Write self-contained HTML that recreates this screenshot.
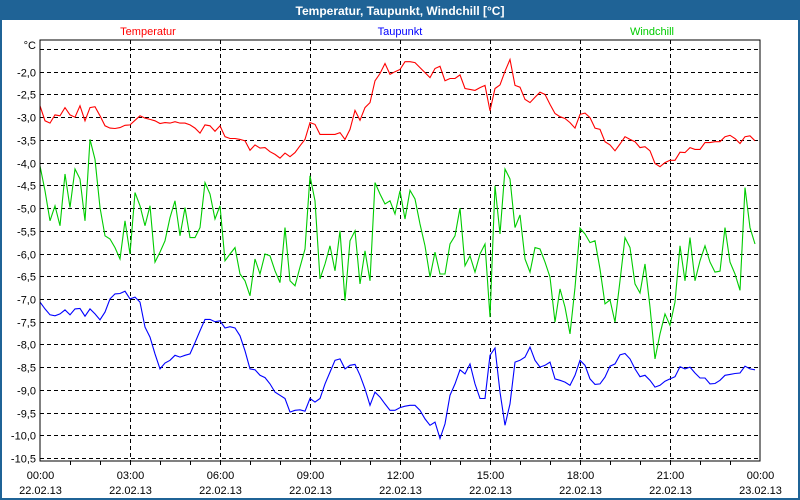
<!DOCTYPE html>
<html><head><meta charset="utf-8">
<style>
html,body{margin:0;padding:0;background:#fff;}
#wrap{position:relative;width:800px;height:500px;overflow:hidden;font-family:"Liberation Sans",sans-serif;}
svg text{font-family:"Liberation Sans",sans-serif;}
</style></head>
<body>
<div id="wrap">
<svg id="chart" width="800" height="500" xmlns="http://www.w3.org/2000/svg">
  <rect x="0" y="0" width="800" height="500" fill="#1f6396"/>
  <rect x="2" y="20" width="796" height="478" fill="#ffffff"/>
  <text x="400" y="15" text-anchor="middle" fill="#ffffff" font-size="12" font-weight="bold">Temperatur, Taupunkt, Windchill [°C]</text>
  <text x="148" y="35" text-anchor="middle" fill="#ff0000" font-size="11">Temperatur</text>
  <text x="400" y="35" text-anchor="middle" fill="#0000ff" font-size="11">Taupunkt</text>
  <text x="652" y="35" text-anchor="middle" fill="#00cc00" font-size="11">Windchill</text>
  <text x="36" y="49" text-anchor="end" fill="#000" font-size="11">°C</text>
  <g id="grid"></g>
  <g id="series"></g>
  <rect x="40" y="40" width="720" height="421" fill="none" stroke="#000" stroke-width="1"/>
</svg>
</div>
<script>
// time step: 10 minutes, starting 00:00
const stepHours = 1/6;
const yTicks = [-1.5,-2.0,-2.5,-3.0,-3.5,-4.0,-4.5,-5.0,-5.5,-6.0,-6.5,-7.0,-7.5,-8.0,-8.5,-9.0,-9.5,-10.0,-10.5];
const xTickHours = [0,3,6,9,12,15,18,21,24];
const xTickTimes = ["00:00","03:00","06:00","09:00","12:00","15:00","18:00","21:00","00:00"];
const xTickDates = ["22.02.13","22.02.13","22.02.13","22.02.13","22.02.13","22.02.13","22.02.13","22.02.13","23.02.13"];
const temperatur = [
-2.75,-3.08,-3.13,-2.95,-2.97,-2.79,-2.95,-3.0,-2.75,-3.08,-2.79,-2.77,-2.97,-3.19,-3.24,-3.25,-3.23,-3.18,-3.17,-3.07,-2.97,-3.02,-3.05,-3.08,-3.14,-3.12,-3.13,-3.1,-3.13,-3.13,-3.17,-3.24,-3.35,-3.17,-3.19,-3.31,
-3.19,-3.43,-3.47,-3.47,-3.49,-3.52,-3.73,-3.61,-3.68,-3.67,-3.76,-3.82,-3.9,-3.79,-3.87,-3.78,-3.63,-3.49,-3.12,-3.16,-3.38,-3.38,-3.38,-3.38,-3.34,-3.49,-3.27,-2.85,-3.07,-2.79,-2.68,-2.2,-2.04,-1.82,-2.06,-2.0,
-1.95,-1.78,-1.78,-1.8,-1.91,-2.02,-2.13,-1.93,-1.88,-2.2,-2.15,-2.15,-2.07,-2.37,-2.39,-2.41,-2.35,-2.3,-2.86,-2.37,-2.29,-1.99,-1.73,-2.3,-2.34,-2.61,-2.68,-2.56,-2.45,-2.5,-2.72,-2.92,-2.99,-3.03,-3.12,-3.24,
-2.94,-2.91,-3.01,-3.24,-3.27,-3.54,-3.61,-3.74,-3.59,-3.43,-3.49,-3.54,-3.67,-3.65,-3.74,-4.02,-4.09,-4.0,-3.95,-3.95,-3.77,-3.78,-3.67,-3.71,-3.71,-3.56,-3.56,-3.54,-3.54,-3.43,-3.4,-3.47,-3.58,-3.43,-3.41,-3.52];
const windchill = [
-4.07,-4.62,-5.28,-4.95,-5.39,-4.25,-4.99,-4.14,-4.36,-5.28,-3.49,-3.93,-4.99,-5.61,-5.68,-5.87,-6.12,-5.28,-6.01,-4.66,-4.95,-5.39,-4.95,-6.19,-5.97,-5.72,-5.21,-4.84,-5.61,-4.99,-5.65,-5.65,-5.43,-4.44,-4.69,-5.24,
-4.95,-6.16,-6.01,-5.87,-6.45,-6.6,-6.93,-6.12,-6.45,-6.01,-6.05,-6.38,-6.64,-5.43,-6.6,-6.71,-6.3,-5.9,-4.29,-4.84,-6.56,-6.23,-5.83,-6.38,-5.5,-7.04,-5.72,-5.5,-6.67,-5.94,-6.6,-4.44,-4.69,-4.91,-4.84,-5.13,
-4.62,-5.24,-4.61,-4.8,-5.35,-5.83,-6.52,-5.97,-6.45,-6.45,-5.79,-5.61,-5.0,-6.27,-6.05,-6.41,-6.01,-5.79,-7.4,-4.51,-5.57,-4.14,-4.36,-5.43,-5.15,-6.12,-6.41,-5.87,-5.9,-6.19,-6.52,-7.51,-6.78,-7.18,-7.77,-6.75,
-5.44,-5.57,-5.76,-5.72,-6.34,-7.11,-7.02,-7.51,-6.6,-5.65,-5.87,-6.67,-6.87,-6.23,-7.18,-8.32,-7.77,-7.33,-7.58,-7.07,-5.83,-6.6,-5.65,-6.6,-6.16,-5.83,-6.19,-6.41,-6.39,-5.43,-6.19,-6.45,-6.81,-4.55,-5.43,-5.79];
const taupunkt = [
-7.07,-7.22,-7.35,-7.37,-7.33,-7.24,-7.35,-7.22,-7.21,-7.38,-7.22,-7.33,-7.46,-7.29,-7.0,-6.89,-6.88,-6.83,-7.0,-6.96,-7.07,-7.62,-7.84,-8.21,-8.54,-8.41,-8.35,-8.24,-8.28,-8.24,-8.21,-7.96,-7.7,-7.45,-7.45,-7.5,
-7.48,-7.64,-7.61,-7.64,-7.81,-8.14,-8.54,-8.56,-8.68,-8.73,-8.87,-9.05,-9.12,-9.19,-9.49,-9.45,-9.44,-9.47,-9.19,-9.27,-9.19,-8.87,-8.61,-8.35,-8.32,-8.54,-8.46,-8.44,-8.68,-8.98,-9.34,-9.05,-9.16,-9.31,-9.45,-9.45,
-9.39,-9.36,-9.34,-9.34,-9.45,-9.64,-9.78,-9.71,-10.07,-9.75,-9.12,-8.87,-8.56,-8.65,-8.43,-8.87,-9.19,-9.19,-8.24,-8.08,-9.05,-9.78,-9.31,-8.39,-8.35,-8.28,-8.06,-8.35,-8.5,-8.46,-8.39,-8.76,-8.79,-8.83,-8.9,-8.68,
-8.35,-8.46,-8.76,-8.88,-8.87,-8.72,-8.48,-8.43,-8.23,-8.2,-8.32,-8.54,-8.71,-8.68,-8.79,-8.94,-8.9,-8.81,-8.76,-8.71,-8.49,-8.54,-8.5,-8.63,-8.74,-8.74,-8.87,-8.86,-8.79,-8.68,-8.66,-8.64,-8.63,-8.48,-8.54,-8.56];

const NS = "http://www.w3.org/2000/svg";
const X0 = 40, X1 = 760, Y0 = 49, Y1 = 458;
function xScale(h){ return X0 + (h/24)*(X1-X0); }
function yScale(v){ return Y0 + (-1.5 - v)/9.0*(Y1-Y0); }
function fmt(v){ return v.toFixed(1).replace('.', ','); }

const grid = document.getElementById('grid');
yTicks.forEach(function(v){
  const y = Math.round(yScale(v)) + 0.5;
  const l = document.createElementNS(NS,'line');
  l.setAttribute('x1',X0); l.setAttribute('x2',X1); l.setAttribute('y1',y); l.setAttribute('y2',y);
  l.setAttribute('stroke','#000'); l.setAttribute('stroke-dasharray','4,3'); l.setAttribute('stroke-width','1');
  
  
  grid.appendChild(l);
  if (v !== -1.5) {
    const t = document.createElementNS(NS,'text');
    t.setAttribute('x',36); t.setAttribute('y',y+4); t.setAttribute('text-anchor','end');
    t.setAttribute('font-size','11'); t.setAttribute('fill','#000');
    t.textContent = fmt(v);
    
    
    grid.appendChild(t);
  }
});
for (let h=1; h<24; h++){
  const x = Math.round(xScale(h)) + 0.5;
  const tk = document.createElementNS(NS,'line');
  tk.setAttribute('x1',x); tk.setAttribute('x2',x); tk.setAttribute('y1',461); tk.setAttribute('y2',465);
  tk.setAttribute('stroke','#000');
  
  
  grid.appendChild(tk);
}
xTickHours.forEach(function(h,i){
  const x = Math.round(xScale(h)) + 0.5;
  if (h>0 && h<24){
    const l = document.createElementNS(NS,'line');
    l.setAttribute('x1',x); l.setAttribute('x2',x); l.setAttribute('y1',40); l.setAttribute('y2',461);
    l.setAttribute('stroke','#000'); l.setAttribute('stroke-dasharray','4,3');
    
    
    grid.appendChild(l);
  }
  const t1 = document.createElementNS(NS,'text');
  t1.setAttribute('x',x); t1.setAttribute('y',479); t1.setAttribute('text-anchor','middle');
  t1.setAttribute('font-size','11'); t1.setAttribute('fill','#000');
  t1.textContent = xTickTimes[i];
  
  
  grid.appendChild(t1);
  const t2 = document.createElementNS(NS,'text');
  t2.setAttribute('x',x); t2.setAttribute('y',494); t2.setAttribute('text-anchor','middle');
  t2.setAttribute('font-size','11'); t2.setAttribute('fill','#000');
  t2.textContent = xTickDates[i];
  
  
  grid.appendChild(t2);
});

const sg = document.getElementById('series');
function drawLine(vals, color, name){
  const pts = vals.map(function(v,i){ return xScale(i*stepHours).toFixed(1)+','+yScale(v).toFixed(1); }).join(' ');
  const p = document.createElementNS(NS,'polyline');
  p.setAttribute('points',pts); p.setAttribute('fill','none');
  p.setAttribute('stroke',color); p.setAttribute('stroke-width','1.1');
  
  
  sg.appendChild(p);
}
drawLine(temperatur,'#ff0000','temperatur-line');
drawLine(windchill,'#00cc00','windchill-line');
drawLine(taupunkt,'#0000ff','taupunkt-line');
</script>
</body></html>
